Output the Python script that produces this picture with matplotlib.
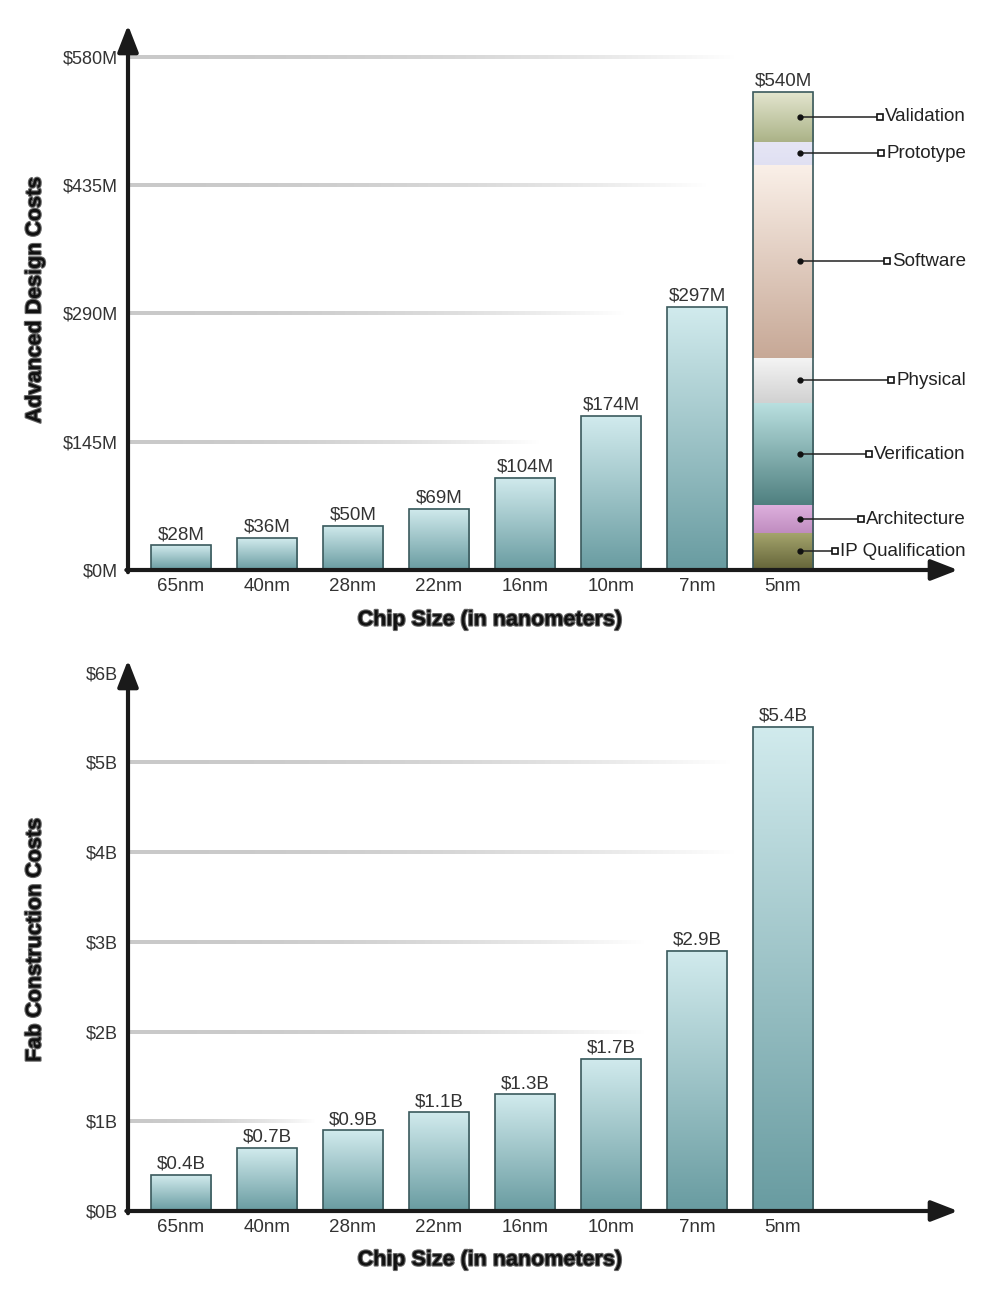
import matplotlib
matplotlib.use('Agg')
import matplotlib.pyplot as plt
import matplotlib.patheffects as pe
from matplotlib.lines import Line2D
import numpy as np

plt.rcParams['font.family'] = ['Liberation Sans', 'DejaVu Sans']

# ---- data ----
nodes = ['65nm', '40nm', '28nm', '22nm', '16nm', '10nm', '7nm', '5nm']
design_cost = [28, 36, 50, 69, 104, 174, 297]          # $M, 65nm..7nm
stack_names = ['IP Qualification', 'Architecture', 'Verification', 'Physical',
               'Software', 'Prototype', 'Validation']
stack_cost = [42, 31, 116, 51, 218, 26, 56]             # $M, 5nm breakdown
design_ticks = [0, 145, 290, 435, 580]
fab_cost = [0.4, 0.7, 0.9, 1.1, 1.3, 1.7, 2.9, 5.4]     # $B
fab_ticks = [0, 1, 2, 3, 4, 5, 6]

# ---- styles ----
W, H = 987, 1303
bar_top = (0.82, 0.92, 0.93)
bar_bot = (0.41, 0.61, 0.63)
edge = '#3b5a5d'
stack_colors = {
    'IP Qualification': ((0.65, 0.65, 0.43), (0.39, 0.39, 0.22)),
    'Architecture': ((0.87, 0.69, 0.87), (0.75, 0.55, 0.75)),
    'Verification': ((0.73, 0.88, 0.88), (0.31, 0.50, 0.50)),
    'Physical': ((0.96, 0.96, 0.96), (0.82, 0.82, 0.82)),
    'Software': ((0.98, 0.94, 0.91), (0.78, 0.66, 0.59)),
    'Prototype': ((0.90, 0.90, 0.96), (0.88, 0.88, 0.95)),
    'Validation': ((0.89, 0.90, 0.81), (0.67, 0.70, 0.53)),
}
title_fx = [pe.withStroke(linewidth=1.6, foreground='#666666')]


def px_to_x(px):
    # category 0 sits at pixel 181, spacing 86 px
    return (px - 181) / 86.0


def gradient_fill(ax, patch, top, bot):
    x0, y0 = patch.get_x(), patch.get_y()
    w, h = patch.get_width(), patch.get_height()
    t = np.linspace(0, 1, 200)[:, None, None]
    img = np.array(top)[None, None, :] * (1 - t) + np.array(bot)[None, None, :] * t
    ax.imshow(img, extent=[x0, x0 + w, y0, y0 + h], origin='upper',
              aspect='auto', interpolation='bilinear', zorder=2)


def fade_line(ax, y, x_end_px, px_per_unit, thick_px=4.0):
    # horizontal grey band that fades out to the right
    x0 = ax.get_xlim()[0]
    x1 = px_to_x(x_end_px)
    t = np.linspace(0, 1, 300)
    img = np.zeros((1, len(t), 4))
    img[0, :, :3] = 0.79
    img[0, :, 3] = 1 - t ** 2.2
    half = thick_px / 2 / px_per_unit
    ax.imshow(img, extent=[x0, x1, y - half, y + half], aspect='auto',
              interpolation='bilinear', zorder=1)


def setup_axes(ax, ymax, ticks, fmt):
    ax.set_xlim(px_to_x(128), px_to_x(958))
    ax.set_ylim(0, ymax)
    for s in ax.spines.values():
        s.set_visible(False)
    ax.set_xticks(range(len(nodes)))
    ax.set_xticklabels(nodes, fontsize=13.5, color='#333333')
    ax.set_yticks(ticks)
    ax.set_yticklabels([fmt.format(t) for t in ticks], fontsize=13, color='#333333')
    ax.tick_params(axis='x', length=0, pad=6)
    ax.tick_params(axis='y', length=0, pad=7)
    ax.patch.set_alpha(0)
    arrow = dict(arrowstyle='-|>,head_length=0.9,head_width=0.35', lw=3,
                 color='#1a1a1a', shrinkA=0, shrinkB=0, mutation_scale=18)
    ax.annotate('', xy=(0, 1), xytext=(0, -0.004), xycoords='axes fraction',
                arrowprops=arrow, annotation_clip=False, zorder=6)
    ax.annotate('', xy=(1, 0), xytext=(-0.002, 0), xycoords='axes fraction',
                arrowprops=arrow, annotation_clip=False, zorder=6)


fig = plt.figure(figsize=(W / 100, H / 100), dpi=100)
fig.patch.set_facecolor('white')

# ---------------- top: design costs ----------------
top_scale = 0.885  # px per $M
ax1 = fig.add_axes([128 / W, 1 - 570 / H, 830 / W, 545 / H])
setup_axes(ax1, 545 / top_scale, design_ticks, '${}M')
for yv, xe in zip(design_ticks[1:], [540, 626, 708, 736]):
    fade_line(ax1, yv, xe, top_scale)

bars = ax1.bar(range(len(design_cost)), design_cost, width=0.7, facecolor='none',
               edgecolor=edge, linewidth=1.2, zorder=3)
for p in bars:
    gradient_fill(ax1, p, bar_top, bar_bot)
for i, v in enumerate(design_cost):
    ax1.text(i, v + 2.5, '${}M'.format(v), ha='center', va='bottom',
             fontsize=13.5, color='#333333', zorder=5)

x5 = len(nodes) - 1
bottoms = np.cumsum([0] + stack_cost[:-1])
segs = ax1.bar([x5] * len(stack_cost), stack_cost, bottom=bottoms, width=0.7,
               facecolor='none', edgecolor='none', zorder=3)
for p, name in zip(segs, stack_names):
    gradient_fill(ax1, p, *stack_colors[name])
total5 = sum(stack_cost)
ax1.bar([x5], [total5], width=0.7, facecolor='none', edgecolor=edge,
        linewidth=1.2, zorder=4)
ax1.text(x5, total5 + 2.5, '${}M'.format(total5), ha='center', va='bottom',
         fontsize=13.5, color='#333333', zorder=5)

# restore limits after imshow
ax1.set_xlim(px_to_x(128), px_to_x(958))
ax1.set_ylim(0, 545 / top_scale)

# ---------------- bottom: fab costs ----------------
bot_scale = 89.7  # px per $B
ax2 = fig.add_axes([128 / W, 1 - 1211 / H, 830 / W, 551 / H])
setup_axes(ax2, 551 / bot_scale, fab_ticks, '${}B')
for yv, xe in zip(fab_ticks[1:6], [316, 646, 646, 736, 732]):
    fade_line(ax2, yv, xe, bot_scale)
bars2 = ax2.bar(range(len(fab_cost)), fab_cost, width=0.7, facecolor='none',
                edgecolor=edge, linewidth=1.2, zorder=3)
for p in bars2:
    gradient_fill(ax2, p, bar_top, bar_bot)
for i, v in enumerate(fab_cost):
    ax2.text(i, v + 0.025, '${}B'.format(v), ha='center', va='bottom',
             fontsize=13.5, color='#333333', zorder=5)
ax2.set_xlim(px_to_x(128), px_to_x(958))
ax2.set_ylim(0, 551 / bot_scale)

# ---------------- axis titles ----------------
title_kw = dict(fontsize=15.5, fontweight='bold', color='#111111', path_effects=title_fx)
fig.text(490 / W, 1 - 620 / H, 'Chip Size (in nanometers)', ha='center', va='center', **title_kw)
fig.text(490 / W, 1 - 1260 / H, 'Chip Size (in nanometers)', ha='center', va='center', **title_kw)
fig.text(35 / W, 1 - 300 / H, 'Advanced Design Costs', ha='center', va='center',
         rotation=90, **title_kw)
fig.text(35 / W, 1 - 940 / H, 'Fab Construction Costs', ha='center', va='center',
         rotation=90, **title_kw)

# ---------------- 5nm breakdown callouts ----------------
fig.canvas.draw()
renderer = fig.canvas.get_renderer()
for p, name in zip(segs, stack_names):
    yc = p.get_y() + p.get_height() / 2
    dx, dy = ax1.transData.transform((x5 + 0.2, yc))
    t = fig.text(966 / W, dy / H, name, ha='right', va='center', fontsize=13.5,
                 color='#222222', zorder=7)
    bb = t.get_window_extent(renderer)
    sq_x = bb.x0 - 5
    fig.add_artist(Line2D([dx / W, (sq_x - 3) / W], [dy / H, dy / H], color='#222222',
                          lw=1.1, transform=fig.transFigure, zorder=7))
    fig.add_artist(Line2D([dx / W], [dy / H], marker='o', markersize=3.5, color='#111111',
                          lw=0, transform=fig.transFigure, zorder=8))
    fig.add_artist(Line2D([sq_x / W], [dy / H], marker='s', markersize=5, mfc='white',
                          mec='#111111', mew=1.2, lw=0, transform=fig.transFigure, zorder=8))

fig.savefig('out.png', dpi=100, facecolor='white')
plt.close()
